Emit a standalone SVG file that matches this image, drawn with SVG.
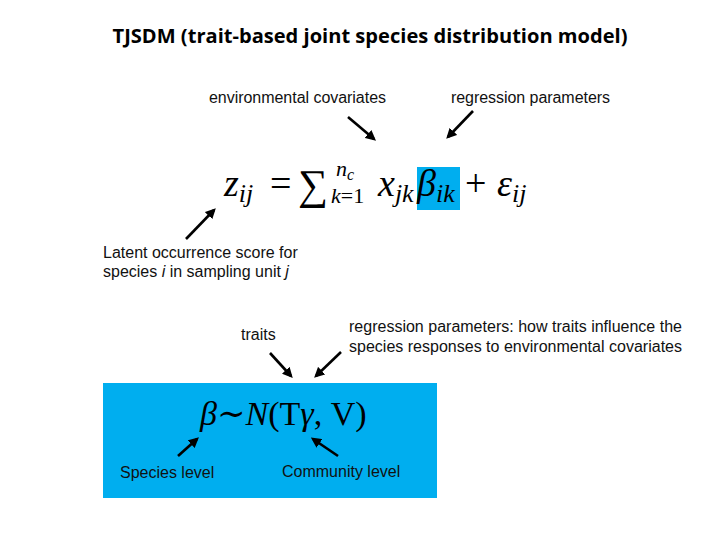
<svg xmlns="http://www.w3.org/2000/svg" width="720" height="540" viewBox="0 0 720 540">
<defs>
<marker id="ah" markerWidth="4" markerHeight="4" refX="3" refY="2" orient="auto" markerUnits="strokeWidth">
<path d="M0,0 L4,2 L0,4 z" fill="#000"/>
</marker>
<style>
.lbl{font-family:"Liberation Sans",Arial,sans-serif;font-size:16px;fill:#111}
.math{font-family:"Liberation Serif","DejaVu Serif",serif;fill:#000}
.it{font-style:italic}
.ar{stroke:#000;stroke-width:2.6;fill:none;marker-end:url(#ah)}
</style>
</defs>
<rect width="720" height="540" fill="#fff"/>
<text x="370" y="43" text-anchor="middle" font-family="'Open Sans','Liberation Sans',sans-serif" font-weight="bold" font-size="19" fill="#000" textLength="515" lengthAdjust="spacingAndGlyphs">TJSDM (trait-based joint species distribution model)</text>

<g id="env-label"><text class="lbl" x="209" y="103" textLength="177">environmental covariates</text></g>
<g id="reg-label"><text class="lbl" x="451" y="103" textLength="159">regression parameters</text></g>

<g id="equation">
<rect x="417" y="167" width="43" height="43" fill="#00AEEF"/>
<text class="math" font-size="38" y="196">
<tspan x="224" class="it">z</tspan><tspan font-size="26" dy="6" class="it">ij</tspan>
<tspan x="270" dy="-6">=</tspan>
<tspan x="378" class="it">x</tspan><tspan font-size="26" dy="6" class="it">jk</tspan>
<tspan x="417" dy="-6" class="it">β</tspan><tspan font-size="26" dy="6" class="it">ik</tspan>
<tspan x="465" dy="-6">+</tspan>
<tspan x="497" class="it">ε</tspan><tspan font-size="26" dy="6" class="it">ij</tspan>
</text>
<text class="math" font-size="22"><tspan x="298" y="199" font-size="42">∑</tspan><tspan x="336" y="176" class="it">n</tspan><tspan font-size="16" dy="4" class="it">c</tspan><tspan x="331" y="203" class="it">k</tspan><tspan>=1</tspan></text>
</g>

<g id="latent-label">
<text class="lbl" x="103" y="258">Latent occurrence score for</text>
<text class="lbl" x="103" y="277">species <tspan font-style="italic">i</tspan> in sampling unit <tspan font-style="italic">j</tspan></text>
</g>

<g id="traits-label"><text class="lbl" x="241" y="340">traits</text></g>
<g id="reg2-label">
<text class="lbl" x="349" y="332" textLength="333">regression parameters: how traits influence the</text>
<text class="lbl" x="349" y="352" textLength="333">species responses to environmental covariates</text>
</g>

<g id="prior-box">
<rect x="103" y="383" width="334" height="115" fill="#00AEEF"/>
<text class="math" font-size="34" x="200" y="425"><tspan class="it">β</tspan>∼<tspan class="it">N</tspan>(T<tspan class="it">γ</tspan>, V)</text>
<text class="lbl" x="120" y="478" fill="#1a1a3a">Species level</text>
<text class="lbl" x="282" y="477" fill="#1a1a3a">Community level</text>
</g>

<g id="connectors">
<line class="ar" x1="348" y1="117" x2="374" y2="139"/>
<line class="ar" x1="473" y1="111" x2="448" y2="137"/>
<line class="ar" x1="186" y1="239" x2="214" y2="210"/>
<line class="ar" x1="270" y1="353" x2="291" y2="376"/>
<line class="ar" x1="341" y1="352" x2="316" y2="376"/>
<line class="ar" x1="178" y1="456" x2="197" y2="439"/>
<line class="ar" x1="338" y1="456" x2="313" y2="439"/>
</g>
</svg>
